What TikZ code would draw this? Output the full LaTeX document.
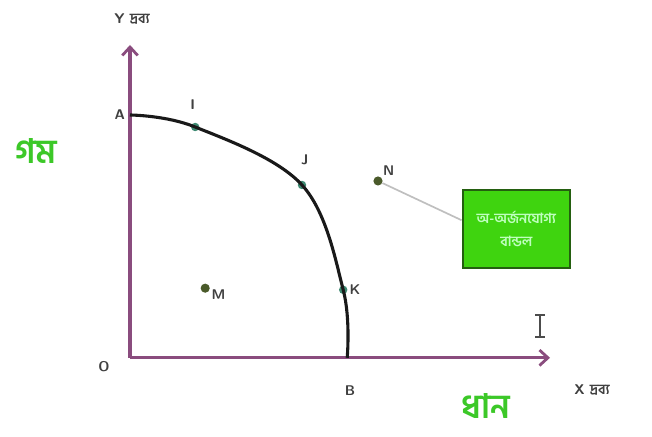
\documentclass[tikz,border=0pt]{standalone}
\usepackage{fontspec}
\usepackage{tikz}
\usetikzlibrary{arrows.meta}
\newfontfamily\bngfont[Script=Bengali]{Hind Siliguri}
\definecolor{axispurple}{HTML}{8A4C7E}
\definecolor{boxgreen}{HTML}{3FD40F}
\definecolor{boxedge}{HTML}{245F10}
\definecolor{labelgreen}{HTML}{3CC828}
\definecolor{dotteal}{HTML}{3E8A72}
\definecolor{dotolive}{HTML}{4A5A2A}
\tikzset{
    axisline/.style={axispurple, line width=2.2pt, -{Straight Barb[length=6pt,width=11pt,line width=2pt]}},
    ptlabel/.style={font=\sffamily\bfseries, text=black!75},
    curvedot/.style={circle, fill=dotteal, inner sep=0pt, minimum size=6pt},
    freedot/.style={circle, fill=dotolive, inner sep=0pt, minimum size=6.5pt},
    goodlabel/.style={font=\bngfont\bfseries\fontsize{24}{28}\selectfont, text=labelgreen}
}
\begin{document}
\begin{tikzpicture}
    \useasboundingbox (0,0) rectangle (16.3,10.925);
    % axes
    \coordinate (O) at (3.25,1.98);
    \coordinate (Ytip) at (3.25,9.8);
    \coordinate (Xtip) at (13.75,1.98);
    \draw[axisline] (O) -- (Ytip);
    \draw[axisline] (O) -- (Xtip);
    \node[ptlabel] (ylab) at (3.3,10.45) {Y {\bngfont দ্রব্য}};
    \node[ptlabel] (xlab) at (14.8,1.18) {X {\bngfont দ্রব্য}};
    \node[ptlabel] (olab) at (2.6,1.75) {O};
    % production possibility curve
    \coordinate (A) at (3.25,8.05);
    \coordinate (B) at (8.68,1.98);
    \node[curvedot] (I) at (4.88,7.75) {};
    \node[curvedot] (J) at (7.55,6.3) {};
    \node[curvedot] (K) at (8.58,3.68) {};
    \draw[line width=2.2pt, black!90] plot[smooth, tension=0.6] coordinates {(A) (4.88,7.75) (7.55,6.3) (8.58,3.68) (B)};
    \node[ptlabel, left] at (A) {A};
    \node[ptlabel] at (4.82,8.3) {I};
    \node[ptlabel] at (7.62,6.92) {J};
    \node[ptlabel, right=1pt] at (K) {K};
    \node[ptlabel] at (8.75,1.15) {B};
    % attainable and unattainable points
    \node[freedot] (M) at (5.13,3.72) {};
    \node[ptlabel, anchor=north west, inner sep=1pt] at (M.east) {M};
    \node[freedot] (N) at (9.45,6.4) {};
    \node[ptlabel, anchor=south west, inner sep=1pt] at (N.north east) {N};
    \node[draw=boxedge, line width=1.8pt, fill=boxgreen, minimum width=2.68cm, minimum height=1.95cm,
          align=center, text=green!25!white, font=\bngfont\bfseries] (box) at (12.91,5.2)
          {অ-অর্জনযোগ্য\\[4pt]বান্ডল};
    \draw[gray!50, line width=1.2pt] (N) -- (box.west |- 0,5.42);
    % goods
    \node[goodlabel] (wheat) at (0.9,7.15) {গম};
    \node[goodlabel] (rice) at (12.15,0.78) {ধান};
    % cursor
    \draw[black!70, line width=1pt] (13.5,2.5) -- (13.5,3.05)
        (13.38,2.5) -- (13.62,2.5) (13.38,3.05) -- (13.62,3.05);
\end{tikzpicture}
\end{document}
